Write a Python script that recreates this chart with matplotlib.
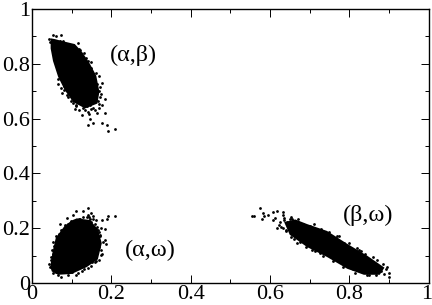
import matplotlib
matplotlib.use("Agg")
import matplotlib.pyplot as plt
from matplotlib.transforms import ScaledTranslation

plt.rcParams['font.family'] = ['Liberation Serif', 'DejaVu Serif']

# -------------------------
# Dense core outlines of the clouds
# -------------------------
core_ab_x = [.047, .058, .079, .108, .127, .146, .162, .170, .165, .134, .104, .083, .066, .053, .047]
core_ab_y = [.893, .890, .882, .872, .842, .800, .757, .698, .655, .637, .660, .703, .752, .810, .856]

core_aw_x = [.046, .052, .060, .082, .100, .113, .146, .166, .176, .166, .138, .100, .066, .050]
core_aw_y = [.059, .114, .165, .208, .228, .236, .230, .197, .145, .086, .058, .033, .030, .042]

core_bw_x = [.636, .664, .694, .744, .795, .845, .889, .877, .837, .795, .744, .694, .650]
core_bw_y = [.222, .232, .215, .190, .143, .100, .056, .030, .030, .052, .095, .131, .176]

# -------------------------
# Loose points around the clouds
# -------------------------
pts_ab_x = [.054, .073, .184, .109, .155, .140, .163, .184, .147, .142, .176, .190, .210, .191, .155, .134,
            .176, .168, .065, .072, .085, .088, .104, .125, .046, .052, .062, .068, .084, .095, .112, .128,
            .146, .150, .161, .170, .166, .172, .168, .060, .064, .070, .078, .096, .118, .130, .148,
            .044, .050, .056, .060, .066, .074, .080, .092, .100, .115, .122, .136, .140, .150, .157, .163,
            .172, .174, .170, .176, .150, .158, .145, .138, .128, .118, .112, .098, .090, .080, .076]
pts_ab_y = [.905, .905, .670, .634, .637, .625, .619, .619, .597, .577, .583, .577, .561, .556, .583, .631,
            .729, .755, .725, .713, .717, .686, .656, .613, .880, .845, .790, .770, .735, .690, .650, .640,
            .650, .785, .765, .700, .665, .680, .640, .900, .878, .885, .882, .870, .855, .840, .805,
            .890, .870, .825, .800, .745, .750, .720, .700, .675, .875, .850, .820, .810, .775, .740, .725,
            .715, .690, .655, .650, .635, .630, .615, .645, .655, .630, .645, .665, .680, .705, .695]

pts_aw_x = [.142, .110, .104, .089, .071, .149, .145, .161, .176, .191, .190, .210, .174, .184, .184, .187,
            .174, .054, .072, .046, .115, .155, .134, .048, .052, .056, .062, .078, .120, .148, .165, .172,
            .170, .176, .162, .150, .092, .100, .125, .152, .170, .060,
            .044, .047, .050, .054, .060, .068, .074, .082, .098, .105, .118, .128, .138, .146, .158, .166,
            .172, .178, .174, .168, .160, .142, .130, .112, .090, .066, .056, .140, .155, .128]
pts_aw_y = [.272, .263, .248, .236, .214, .257, .242, .230, .230, .244, .232, .246, .199, .197, .157, .142,
            .102, .035, .023, .057, .035, .232, .227, .085, .105, .135, .150, .195, .232, .222, .205, .170,
            .130, .105, .082, .062, .215, .040, .045, .075, .185, .040,
            .070, .095, .120, .150, .170, .180, .195, .212, .228, .222, .235, .240, .240, .235, .215, .195,
            .175, .150, .120, .085, .075, .055, .050, .030, .028, .030, .048, .250, .245, .262]

pts_bw_x = [.574, .556, .561, .583, .586, .594, .580, .609, .618, .632, .614, .607, .626, .635, .622, .653,
            .670, .618, .632, .711, .723, .652, .669, .690, .727, .764, .788, .900, .900, .887, .632, .645,
            .660, .680, .715, .770, .810, .850, .880, .860, .820, .770, .710, .705, .640, .650, .892, .830,
            .628, .636, .644, .655, .672, .684, .700, .730, .750, .775, .800, .825, .840, .870, .884, .895,
            .868, .845, .815, .785, .760, .735, .715, .675, .660, .640]
pts_bw_y = [.275, .246, .246, .257, .244, .248, .232, .260, .263, .260, .236, .230, .224, .230, .212, .240,
            .235, .199, .202, .214, .193, .167, .145, .133, .108, .165, .145, .035, .023, .033, .248, .215,
            .185, .175, .130, .095, .050, .030, .045, .095, .128, .170, .190, .120, .195, .232, .050, .118,
            .205, .238, .222, .232, .222, .215, .208, .198, .185, .170, .145, .122, .105, .085, .068, .058,
            .028, .028, .038, .060, .080, .100, .115, .150, .160, .190]

labels = ["(α,β)", "(α,ω)", "(β,ω)"]
label_x = [.197, .235, .783]
label_y = [.83, .117, .248]

xticks = [0, .2, .4, .6, .8, 1]
yticks = [0, .2, .4, .6, .8, 1]
ticklabels = ["0", "0.2", "0.4", "0.6", "0.8", "1"]

# -------------------------
# Plot
# -------------------------
fig = plt.figure(figsize=(4.32, 3.05), dpi=100)
ax = fig.add_axes([32 / 432, 22 / 305, 396.5 / 432, 274 / 305])

for cx, cy in [(core_ab_x, core_ab_y), (core_aw_x, core_aw_y), (core_bw_x, core_bw_y)]:
    ax.fill(cx, cy, color="black", lw=0)
for px, py in [(pts_ab_x, pts_ab_y), (pts_aw_x, pts_aw_y), (pts_bw_x, pts_bw_y)]:
    ax.scatter(px, py, s=4, color="black", lw=0)

for lab, lx, ly in zip(labels, label_x, label_y):
    ax.text(lx, ly, lab, fontsize=17.5, ha="left", va="center")

ax.set_xlim(0, 1)
ax.set_ylim(0, 1)
ax.set_xticks(xticks)
ax.set_xticklabels(ticklabels)
ax.set_yticks(yticks)
ax.set_yticklabels(ticklabels)
ax.set_xticks([.1, .3, .5, .7, .9], minor=True)
ax.set_yticks([.1, .3, .5, .7, .9], minor=True)
ax.tick_params(which="both", direction="in", top=True, right=True, width=0.7)
ax.tick_params(which="major", length=5.5, labelsize=16, pad=1.5)
ax.tick_params(which="minor", length=2.8)
for s in ax.spines.values():
    s.set_linewidth(1.0)

# keep the last x label inside the image
last = ax.get_xticklabels()[-1]
last.set_transform(last.get_transform() + ScaledTranslation(-1.5 / 100, 0, fig.dpi_scale_trans))

fig.savefig("out.png", dpi=100)
